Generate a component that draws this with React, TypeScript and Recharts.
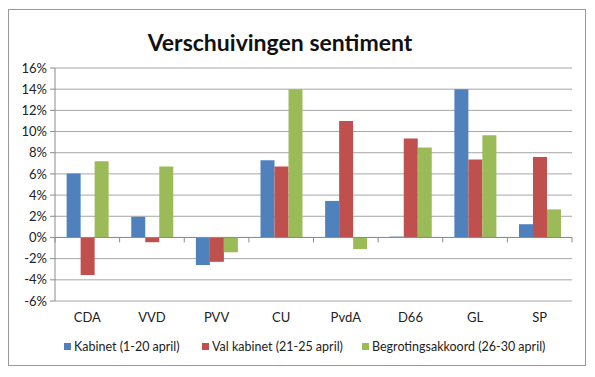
import React from 'react';
import { BarChart, Bar, XAxis, YAxis, CartesianGrid, Legend, ReferenceLine } from 'recharts';

const categories = ['CDA', 'VVD', 'PVV', 'CU', 'PvdA', 'D66', 'GL', 'SP'];
const kabinet = [6.05, 1.95, -2.6, 7.3, 3.45, 0.08, 14.0, 1.25];
const valKabinet = [-3.55, -0.45, -2.3, 6.7, 11.0, 9.35, 7.35, 7.6];
const begroting = [7.2, 6.7, -1.4, 14.0, -1.1, 8.5, 9.65, 2.65];
const yTicks = [-6, -4, -2, 0, 2, 4, 6, 8, 10, 12, 14, 16];
const seriesNames = ['Kabinet (1-20 april)', 'Val kabinet (21-25 april)', 'Begrotingsakkoord (26-30 april)'];
const seriesColors = ['#4F81BD', '#C0504D', '#9BBB59'];
const title = 'Verschuivingen sentiment';

const data = categories.map((c, i) => ({
  name: c,
  kabinet: kabinet[i],
  val: valKabinet[i],
  begroting: begroting[i],
}));

const FONT = 'Lato, "Open Sans", sans-serif';

const ZeroAxis = (props: any) => {
  const { x1, x2, y1 } = props;
  const n = categories.length;
  const step = (x2 - x1) / n;
  const ticks = [];
  for (let i = 0; i <= n; i++) {
    const x = x1 + step * i;
    ticks.push(<line key={i} x1={x} x2={x} y1={y1} y2={y1 + 5} stroke="#8C8C8C" strokeWidth={1} />);
  }
  return (
    <g>
      <line x1={x1} x2={x2} y1={y1} y2={y1} stroke="#8C8C8C" strokeWidth={1} />
      {ticks}
    </g>
  );
};

const legendLefts = [64, 202, 362];

const LegendContent = () => (
  <div style={{ position: 'relative', fontFamily: FONT, fontSize: 12.5, color: '#222', whiteSpace: 'nowrap', height: 0 }}>
    {seriesNames.map((n, i) => (
      <div key={n} style={{ position: 'absolute', left: legendLefts[i], top: 0, display: 'flex', alignItems: 'center' }}>
        <span style={{ width: 7, height: 7, background: seriesColors[i], display: 'inline-block', marginRight: 3 }} />
        <span>{n}</span>
      </div>
    ))}
  </div>
);

export default function App() {
  return (
    <div style={{ position: 'absolute', left: 0, top: 0, width: 595, height: 377, background: '#fff' }}>
      <div
        style={{
          position: 'absolute',
          left: 8,
          top: 9,
          width: 578,
          height: 357,
          border: '1.5px solid #9A9A9A',
          boxSizing: 'border-box',
        }}
      />
      <div
        style={{
          position: 'absolute',
          left: 0,
          top: 28,
          width: 560,
          textAlign: 'center',
          fontFamily: FONT,
          fontWeight: 700,
          fontSize: 23,
          color: '#111',
        }}
      >
        {title}
      </div>
      <div style={{ position: 'absolute', left: 0, top: 0 }}>
        <BarChart
          width={595}
          height={377}
          data={data}
          margin={{ top: 68, right: 23, bottom: 46, left: 0 }}
          barCategoryGap="18%"
          barGap={0}
        >
          <CartesianGrid vertical={false} stroke="#A6A6A6" strokeWidth={1} />
          <XAxis
            dataKey="name"
            axisLine={false}
            tickLine={false}
            height={30}
            tick={{ fontFamily: FONT, fontSize: 13, fill: '#222' }}
            tickMargin={6}
          />
          <YAxis
            domain={[-6, 16]}
            ticks={yTicks}
            width={55}
            interval={0}
            tickFormatter={(v: number) => `${v}%`}
            axisLine={{ stroke: '#8C8C8C' }}
            tickLine={{ stroke: '#8C8C8C' }}
            tickSize={5}
            tick={{ fontFamily: FONT, fontSize: 13, fill: '#222' }}
            tickMargin={3}
          />
          <Bar dataKey="kabinet" name={seriesNames[0]} fill={seriesColors[0]} isAnimationActive={false} />
          <Bar dataKey="val" name={seriesNames[1]} fill={seriesColors[1]} isAnimationActive={false} />
          <Bar dataKey="begroting" name={seriesNames[2]} fill={seriesColors[2]} isAnimationActive={false} />
          <ReferenceLine y={0} shape={ZeroAxis} />
          <Legend
            content={LegendContent}
            wrapperStyle={{ position: 'absolute', left: 0, top: 339, width: 595, height: 0, overflow: 'visible' }}
          />
        </BarChart>
      </div>
    </div>
  );
}
